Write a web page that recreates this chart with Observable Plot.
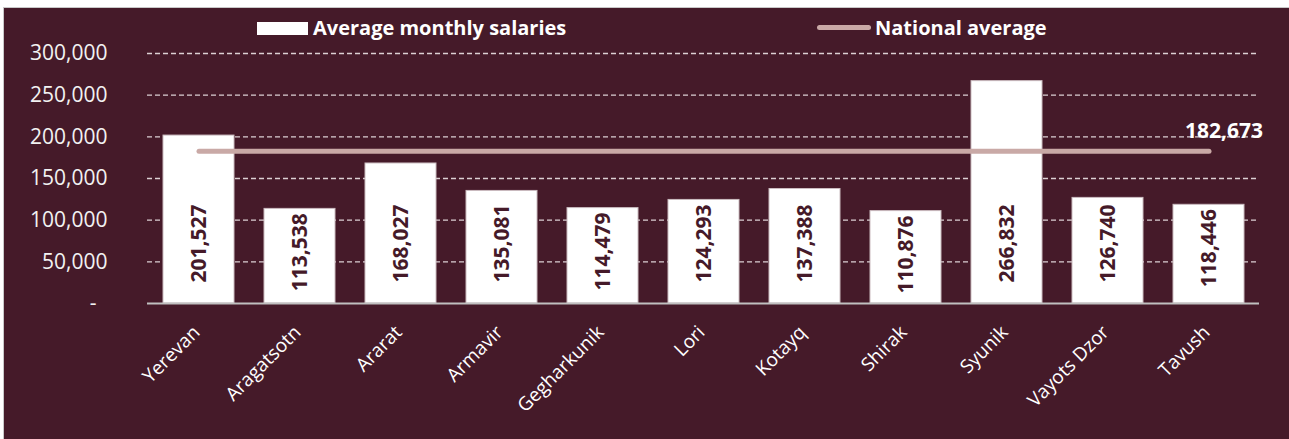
<!DOCTYPE html>
<html>
<head>
<meta charset="utf-8">
<script src="https://cdn.jsdelivr.net/npm/d3@7"></script>
<script src="https://cdn.jsdelivr.net/npm/@observablehq/plot@0.6"></script>
<style>
  html, body { margin: 0; padding: 0; background: #ffffff; }
  body { width: 1289px; height: 439px; overflow: hidden; position: relative; font-family: "Open Sans", sans-serif; }
  #frame { position: absolute; left: 3px; top: 7px; width: 1286px; height: 432px; background: #451a29; border-left: 1px solid #c8c8c8; border-top: 1px solid #c8c8c8; }
  #chart { position: absolute; left: 0; top: 0; width: 1285px; height: 431px; }
  #chart svg { display: block; max-width: none; }
  .leg { position: absolute; color: #ffffff; font-weight: 700; font-size: 20px; line-height: 22px; white-space: nowrap; }
  .sw-bar { position: absolute; background: #ffffff; }
  .sw-line { position: absolute; background: #c9a9a6; border-radius: 3px; }
</style>
</head>
<body>
<div id="frame"><div id="chart"></div></div>
<div class="sw-bar" style="left:257px; top:22px; width:51px; height:13px;"></div>
<div class="leg" style="left:313px; top:17px;">Average monthly salaries</div>
<div class="sw-line" style="left:817px; top:25px; width:54px; height:5px;"></div>
<div class="leg" style="left:875px; top:17px;">National average</div>
<script>
const regions = ["Yerevan", "Aragatsotn", "Ararat", "Armavir", "Gegharkunik", "Lori", "Kotayq", "Shirak", "Syunik", "Vayots Dzor", "Tavush"];
const salaries = [201527, 113538, 168027, 135081, 114479, 124293, 137388, 110876, 266832, 126740, 118446];
const nationalAverage = 182673;
const yTicks = [0, 50000, 100000, 150000, 200000, 250000, 300000];

const data = regions.map((r, i) => ({region: r, value: salaries[i]}));
const fmt = d3.format(",");
const maroon = "#451a29";

const chart = Plot.plot({
  width: 1285,
  height: 431,
  marginLeft: 143,
  marginRight: 30,
  marginTop: 45,
  marginBottom: 136,
  style: {background: "transparent", fontFamily: "Open Sans, sans-serif", overflow: "visible"},
  x: {domain: regions, paddingInner: 0.3, paddingOuter: 0.15, axis: null},
  y: {domain: [0, 300000], axis: null},
  marks: [
    Plot.ruleY(yTicks.filter(d => d > 0), {stroke: "#dcd0d3", strokeWidth: 1.3, strokeDasharray: "5,3"}),
    Plot.barY(data, {x: "region", y: "value", fill: "#ffffff", stroke: "#cbbcc0", strokeWidth: 1}),
    Plot.ruleY([0], {stroke: "#c0c0c0", strokeWidth: 2}),
    Plot.text(data, {
      x: "region",
      y: d => Math.min(72000, d.value - 52000),
      text: d => fmt(d.value),
      rotate: -90,
      fill: maroon,
      fontWeight: "bold",
      fontSize: 21
    }),
    Plot.line(data, {x: "region", y: () => nationalAverage, stroke: "#c9a9a6", strokeWidth: 5, strokeLinecap: "round"}),
    Plot.text([nationalAverage], {
      x: () => regions[regions.length - 1],
      y: d => d,
      text: d => fmt(d),
      dx: 15,
      dy: -20,
      fill: "#ffffff",
      fontWeight: "bold",
      fontSize: 21
    }),
    Plot.text(yTicks, {
      y: d => d,
      frameAnchor: "left",
      textAnchor: "end",
      dx: -40,
      text: d => d === 0 ? "-\u00a0\u00a0" : fmt(d),
      fill: "#f2f2f2",
      fontSize: 21
    }),
    Plot.text(regions, {
      x: d => d,
      frameAnchor: "bottom",
      textAnchor: "end",
      rotate: -45,
      dx: 2,
      dy: 30,
      text: d => d,
      fill: "#ffffff",
      fontSize: 19
    })
  ]
});
document.getElementById("chart").appendChild(chart);
</script>
</body>
</html>
